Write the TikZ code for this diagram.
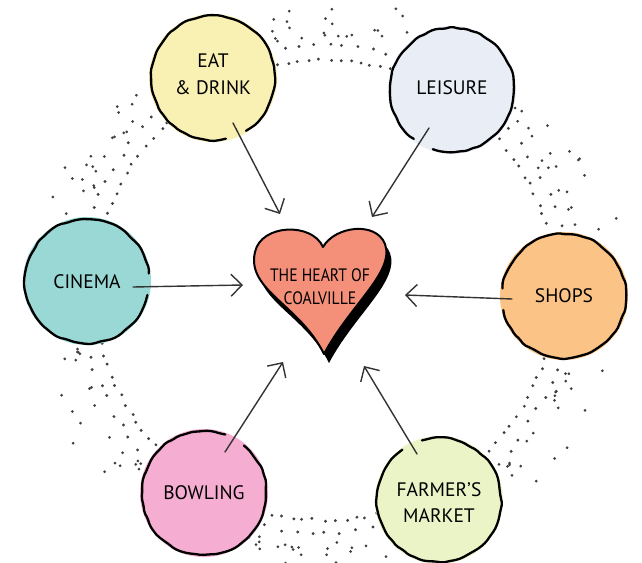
\documentclass[tikz,border=0pt]{standalone}
\usepackage{fontspec}
\setmainfont{PT Sans}
\newfontfamily\heartfont[FakeStretch=0.87]{PT Sans}
\usetikzlibrary{arrows.meta,decorations.pathmorphing}

\definecolor{eatc}{HTML}{F9F0B3}
\definecolor{leic}{HTML}{E9EEF6}
\definecolor{cinc}{HTML}{99D8D5}
\definecolor{shopc}{HTML}{FBC385}
\definecolor{bowc}{HTML}{F5AED1}
\definecolor{farc}{HTML}{EBF4C6}
\definecolor{heartc}{HTML}{F4907A}
\definecolor{dotc}{HTML}{3F3F3F}
\definecolor{arrc}{HTML}{333333}

\tikzset{
  bubble/.style={circle, minimum size=124pt, inner sep=0pt, align=center,
    font=\fontsize{19.5}{27}\selectfont},
  rim/.style={line width=2.3pt, black, line cap=round,
    decorate, decoration={random steps, segment length=7pt, amplitude=0.9pt},
    rounded corners=2pt},
  link/.style={arrc, line width=1.4pt, line cap=round,
    -{Straight Barb[length=11pt,width=22pt]}},
  dotmark/.style={fill=dotc},
  heartlabel/.style={align=center, font=\heartfont\fontsize{18}{23}\selectfont},
}

% #1 name, #2 centre, #3 colour, #4 gap angle, #5 text, #6 text position
\newcommand\mybubble[6]{%
  \fill[#3] #2 circle (64);
  \draw[rim] #2 ++(#4+10:62) arc[start angle=#4+10, end angle=#4+350, radius=62];
  \node[bubble] (#1) at #6 {#5};
}

\newcommand\myheart{%
  (323,247) .. controls (335,226) and (376,221) .. (385,244)
  .. controls (395,272) and (350,305) .. (324,354)
  .. controls (300,305) and (246,290) .. (255,252)
  .. controls (261,224) and (312,222) .. (323,247) -- cycle}

\begin{document}
\begin{tikzpicture}[x=1pt, y=-1pt]
\useasboundingbox (0,0) rectangle (642,562);

% dotted ring
\pgfmathsetseed{17}
\begin{scope}[shift={(325,290)}]
\foreach \a/\b in {17/47,77/106,137/166,197/227,258/287,317/346} {
  \foreach \t in {0,...,11} {
    \pgfmathsetmacro\ang{\a+(\b-\a)*\t/11+1.2*(rnd-0.5)}
    \pgfmathsetmacro\rad{230+3*(rnd-0.5)}
    \fill[dotmark] (\ang:\rad) circle (1.6);
  }
  \foreach \t in {0,...,7} {
    \pgfmathsetmacro\ang{\a+2+(\b-\a-4)*\t/7+2*(rnd-0.5)}
    \pgfmathsetmacro\rad{244+5*(rnd-0.5)}
    \fill[dotmark] (\ang:\rad) circle (1.6);
  }
  \foreach \k in {1,...,22} {
    \pgfmathsetmacro\ang{\a-2+(\b-\a+4)*rnd}
    \pgfmathsetmacro\rad{252+50*rnd*rnd}
    \fill[dotmark] (\ang:\rad) circle (1.5);
  }
}
\end{scope}

% bubbles
\mybubble{eat}{(213,78)}{eatc}{68}{EAT\\\& DRINK}{(213,74)}
\mybubble{leisure}{(452,90)}{leic}{118}{LEISURE}{(452,88)}
\mybubble{cinema}{(87,281)}{cinc}{3}{CINEMA}{(87,282)}
\mybubble{shops}{(564,296)}{shopc}{177}{SHOPS}{(564,296)}
\mybubble{bowling}{(204,493)}{bowc}{300}{BOWLING}{(204,493)}
\mybubble{farmer}{(439,500)}{farc}{244}{FARMER’S\\[-1pt]MARKET}{(439,503)}

% heart
\begin{scope}[shift={(5,9)}]
  \fill[black] \myheart;
\end{scope}
\filldraw[fill=heartc, draw=black, line width=2pt, line join=round] \myheart;
\node[heartlabel] (heart) at (320,287) {THE HEART OF\\COALVILLE};

% connector ends
\coordinate (eatS) at (233,123);     \coordinate (eatT) at (280,214);
\coordinate (leiS) at (429,128);     \coordinate (leiT) at (372,217);
\coordinate (cinS) at (133,287);     \coordinate (cinT) at (243,285);
\coordinate (shoS) at (512,299);     \coordinate (shoT) at (405,295);
\coordinate (bowS) at (225,452);     \coordinate (bowT) at (283,362);
\coordinate (farS) at (417,454);     \coordinate (farT) at (364,366);

\draw[link] (eatS) -- (eatT);
\draw[link] (leiS) -- (leiT);
\draw[link] (cinS) -- (cinT);
\draw[link] (shoS) -- (shoT);
\draw[link] (bowS) -- (bowT);
\draw[link] (farS) -- (farT);
\end{tikzpicture}
\end{document}
